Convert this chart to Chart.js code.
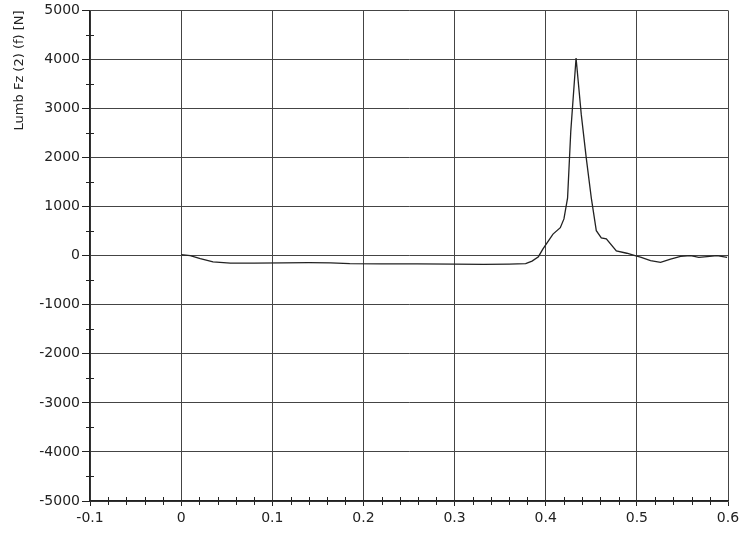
<!DOCTYPE html>
<html>
<head>
<meta charset="utf-8">
<script src="https://cdn.jsdelivr.net/npm/chart.js@4/dist/chart.umd.min.js"></script>
<style>
  html, body { margin: 0; padding: 0; background: #fff; }
  #wrap { width: 751px; height: 536px; }
</style>
</head>
<body>
<div id="wrap"><canvas id="chart" width="751" height="536"></canvas></div>
<script>
// Time axis (s) and force values (N)
const timeValues = [
  0, 0.01, 0.021, 0.035, 0.054, 0.08, 0.112, 0.14, 0.164, 0.185,
  0.22, 0.259, 0.3, 0.332, 0.36, 0.378, 0.385, 0.392, 0.397, 0.408,
  0.416, 0.42, 0.424, 0.4275, 0.4333, 0.439, 0.4445, 0.45, 0.4555, 0.461,
  0.4665, 0.4775, 0.489, 0.498, 0.504, 0.515, 0.526, 0.537, 0.548, 0.559,
  0.568, 0.577, 0.588, 0.599
];
const forceValues = [
  20, 0, -60, -125, -150, -150, -145, -140, -145, -160,
  -165, -165, -170, -175, -170, -160, -110, -20, 140, 440,
  570, 750, 1180, 2535, 4030, 2880, 1990, 1180, 510, 365,
  345, 100, 50, 0, -30, -100, -135, -70, -15, 0,
  -35, -20, 0, -35
];

const xTicks = [-0.1, 0, 0.1, 0.2, 0.3, 0.4, 0.5, 0.6];
const yTicks = [-5000, -4000, -3000, -2000, -1000, 0, 1000, 2000, 3000, 4000, 5000];
const yTitle = 'Lumb Fz (2) (f) [N]';

const ink = '#222';
const gridColor = '#444';
const fontFamily = 'DejaVu Sans, Verdana, sans-serif';

// small crossing ticks between the labelled ones
const minorTicks = {
  id: 'minorTicks',
  afterDraw(chart) {
    const ctx = chart.ctx;
    const xs = chart.scales.x;
    const ys = chart.scales.y;
    const axisX = ys.right;
    const axisY = xs.top;
    ctx.save();
    ctx.strokeStyle = ink;
    ctx.lineWidth = 1;
    ctx.beginPath();
    for (let v = -5000; v <= 5000; v += 500) {
      if (v % 1000 === 0) continue;
      const py = Math.round(ys.getPixelForValue(v)) + 0.5;
      ctx.moveTo(axisX - 4, py);
      ctx.lineTo(axisX + 4, py);
    }
    for (let i = -5; i <= 30; i++) {
      if (i % 5 === 0) continue;
      const px = Math.round(xs.getPixelForValue(i * 0.02)) + 0.5;
      ctx.moveTo(px, axisY - 4);
      ctx.lineTo(px, axisY + 4);
    }
    ctx.stroke();
    ctx.restore();
  }
};

function buildPoints() {
  return timeValues.map((t, i) => ({ x: t, y: forceValues[i] }));
}

function init() {
  const ctx = document.getElementById('chart').getContext('2d');
  new Chart(ctx, {
    type: 'line',
    data: {
      datasets: [{
        data: buildPoints(),
        borderColor: ink,
        borderWidth: 1.3,
        pointRadius: 0,
        tension: 0,
        fill: false
      }]
    },
    options: {
      responsive: false,
      animation: false,
      layout: { padding: { left: 0, top: 8, right: 23, bottom: 0 } },
      plugins: {
        legend: { display: false },
        tooltip: { enabled: false }
      },
      scales: {
        x: {
          type: 'linear',
          min: -0.1,
          max: 0.6,
          afterBuildTicks: scale => { scale.ticks = xTicks.map(v => ({ value: v })); },
          afterFit: scale => { scale.height = 35; },
          grid: { color: gridColor, lineWidth: 1, tickLength: 5, tickColor: ink },
          border: { color: ink, width: 1.5 },
          ticks: {
            color: ink,
            padding: 4,
            font: { family: fontFamily, size: 14 },
            callback: v => String(Math.round(v * 10) / 10)
          }
        },
        y: {
          min: -5000,
          max: 5000,
          afterBuildTicks: scale => { scale.ticks = yTicks.map(v => ({ value: v })); },
          afterFit: scale => { scale.width = 90; },
          grid: { color: gridColor, lineWidth: 1, tickLength: 8, tickColor: ink },
          border: { color: ink, width: 1.5 },
          title: {
            display: true,
            text: yTitle,
            color: ink,
            align: 'end',
            padding: { top: 12, bottom: 0 },
            font: { family: fontFamily, size: 13 }
          },
          ticks: {
            color: ink,
            padding: 2,
            font: { family: fontFamily, size: 14 },
            callback: v => String(v)
          }
        }
      }
    },
    plugins: [minorTicks]
  });
}

window.onload = init;
</script>
</body>
</html>
